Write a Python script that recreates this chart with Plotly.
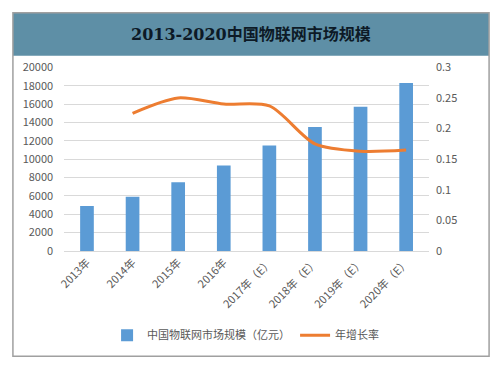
import plotly.graph_objects as go

categories = ["2013年", "2014年", "2015年", "2016年", "2017年（E）", "2018年（E）", "2019年（E）", "2020年（E）"]
market_size = [4896, 5900, 7500, 9300, 11500, 13500, 15700, 18300]
growth_categories = categories[1:]
growth_rate = [0.225, 0.25, 0.24, 0.237, 0.175, 0.163, 0.165]

W, H = 495, 368
def px(x):
    return x / W
def py(y):
    return (H - y) / H

fig = go.Figure()
fig.add_trace(go.Bar(
    x=categories, y=market_size, name="中国物联网市场规模（亿元）",
    marker=dict(color="#5b9bd5", line=dict(width=0)), width=0.3,
))
fig.add_trace(go.Scatter(
    x=growth_categories, y=growth_rate, name="年增长率", yaxis="y2",
    mode="lines", line=dict(color="#ed7d31", width=3, shape="spline", smoothing=0.8),
))

gray = "#595959"
fig.update_layout(
    width=W, height=H,
    margin=dict(l=0, r=0, t=0, b=0),
    paper_bgcolor="white", plot_bgcolor="white",
    font=dict(family="Noto Sans CJK SC", size=11, color=gray),
    showlegend=True,
    legend=dict(orientation="h", x=px(242), xanchor="center", y=py(341), yanchor="middle",
                font=dict(size=11, color=gray), itemwidth=30, traceorder="normal"),
    xaxis=dict(domain=[px(58), px(428)], tickangle=-45, showgrid=False,
               showline=True, linecolor="#d9d9d9", ticks="",
               tickfont=dict(size=11, color=gray)),
    yaxis=dict(domain=[py(253), py(61)], range=[0, 20000], dtick=2000, tickformat="d",
               showgrid=True, gridcolor="#d9d9d9", zeroline=False,
               ticks="", tickfont=dict(size=11, color=gray), ticklabelstandoff=10),
    yaxis2=dict(overlaying="y", side="right", range=[0, 0.3], dtick=0.05,
                showgrid=False, zeroline=False, ticks="",
                tickfont=dict(size=11, color=gray), ticklabelstandoff=6),
    shapes=[
        dict(type="rect", xref="paper", yref="paper", x0=px(6), x1=px(489), y0=py(49), y1=py(4),
             fillcolor="#5e8fa6", line=dict(width=0), layer="below"),
        dict(type="rect", xref="paper", yref="paper", x0=px(6), x1=px(489), y0=py(363), y1=py(4),
             fillcolor="rgba(0,0,0,0)", line=dict(color="#a0a0a0", width=1.5)),
    ],
    annotations=[
        dict(text="<b>2013-2020中国物联网市场规模</b>", xref="paper", yref="paper",
             x=px(247.5), y=py(27), xanchor="center", yanchor="middle", showarrow=False,
             font=dict(family="DejaVu Serif, Noto Sans CJK SC", size=16, color="#0d1a26")),
    ],
)

fig.write_html("out.html", config={"displayModeBar": False},
               post_script="document.body.style.margin='0';document.body.style.overflow='hidden';")
